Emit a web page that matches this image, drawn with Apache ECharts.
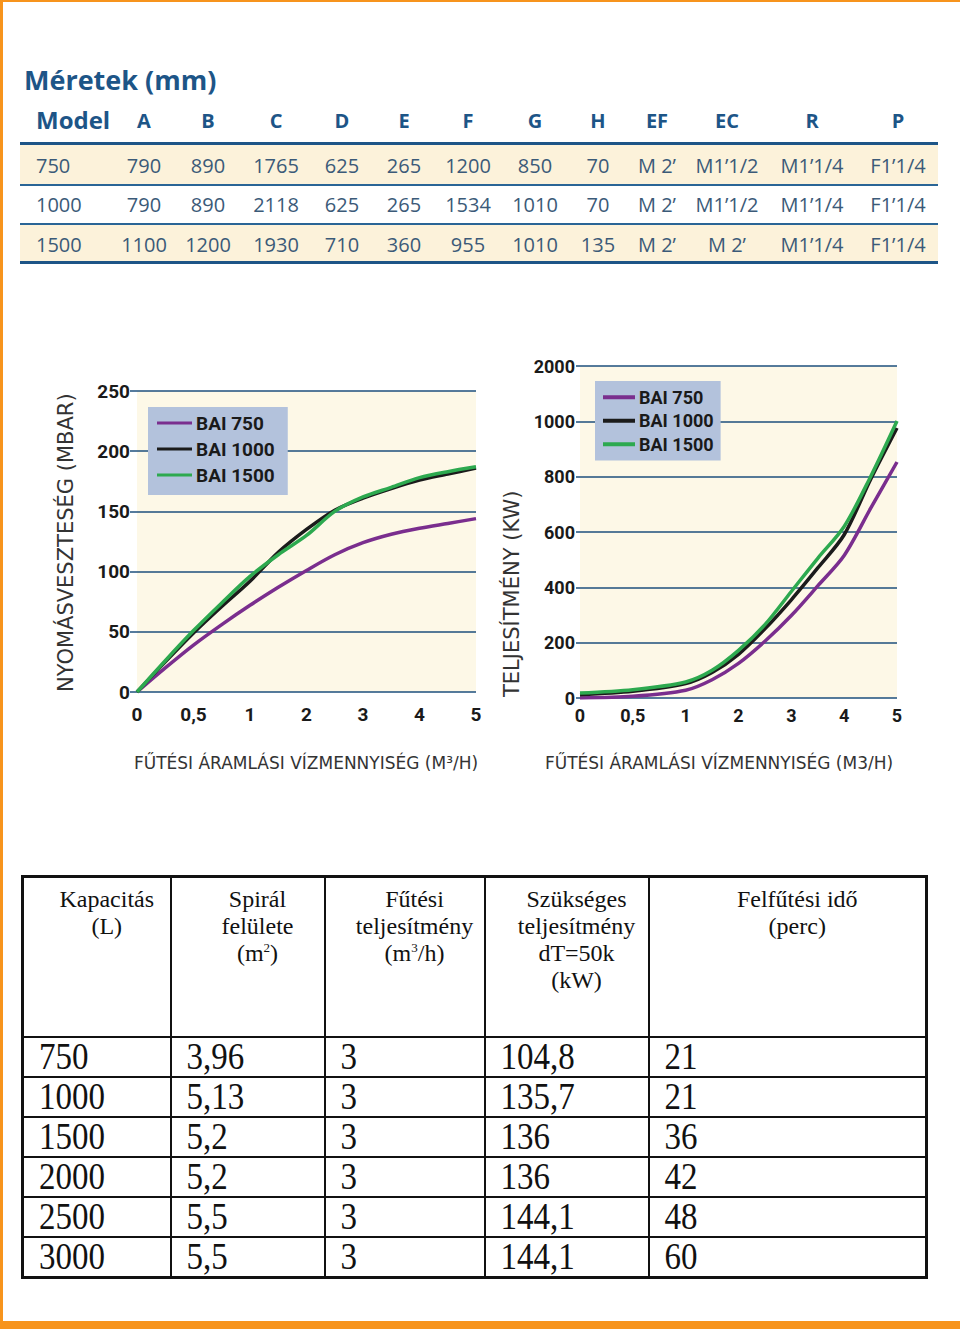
<!DOCTYPE html>
<html>
<head>
<meta charset="utf-8">
<script src="https://cdn.jsdelivr.net/npm/echarts@6/dist/echarts.min.js"></script>
<style>
  html, body { margin:0; padding:0; background:#fff; }
  body { width:960px; height:1329px; position:relative; overflow:hidden; }
  #chart { position:absolute; left:0; top:0; width:960px; height:1329px; }
  .ob { position:absolute; background:#f7941d; }
  .t { position:absolute; white-space:nowrap; }
  #dims .hdr { font-family:"Open Sans","Noto Sans",sans-serif; font-weight:700; color:#1d5587; }
  #dims .val { font-family:"Open Sans","Noto Sans",sans-serif; color:#3b5a78; font-size:20px; }
  #cap table { position:absolute; left:21px; top:875px; border-collapse:collapse; table-layout:fixed;
     font-family:"Liberation Serif","Times New Roman",serif; color:#111; }
  #cap td, #cap th { border:2px solid #111; padding:0; }
  #cap th { font-weight:400; font-size:24px; line-height:27px; vertical-align:top; text-align:center; padding-top:8px; padding-left:20px; height:150px; }
  #cap th sup { font-size:13px; line-height:0; vertical-align:9px; }
  #cap td { font-size:33px; height:38px; line-height:38px; padding-left:15px; vertical-align:middle; }
  #cap td span { display:inline-block; transform:scaleY(1.15); transform-origin:50% 55%; }
</style>
</head>
<body>
<div id="chart"></div>
<div id="dims"></div>
<div id="cap"></div>
<div class="ob" style="left:0;top:0;width:960px;height:2px"></div>
<div class="ob" style="left:0;top:0;width:3px;height:1329px"></div>
<div class="ob" style="left:0;top:1321px;width:960px;height:8px"></div>
<script>
// ---------- data ----------
const dimTitle = 'Méretek (mm)';
const dimHeaders = ['Model','A','B','C','D','E','F','G','H','EF','EC','R','P'];
const dimModels = ['750','1000','1500'];
const dimRow750  = ['790','890','1765','625','265','1200','850','70','M 2\u2019','M1\u20191/2','M1\u20191/4','F1\u20191/4'];
const dimRow1000 = ['790','890','2118','625','265','1534','1010','70','M 2\u2019','M1\u20191/2','M1\u20191/4','F1\u20191/4'];
const dimRow1500 = ['1100','1200','1930','710','360','955','1010','135','M 2\u2019','M 2\u2019','M1\u20191/4','F1\u20191/4'];

const seriesNames = ['BAI 750','BAI 1000','BAI 1500'];
const flowTickLabels = ['0','0,5','1','2','3','4','5'];   // non-uniform flow axis (m3/h)
const kwTickLabels = ['0','200','400','600','800','1000','2000']; // non-uniform power axis (kW)

// pressure loss chart (mbar vs m3/h)
const pFlow = [0, 0.25, 0.5, 0.75, 1, 1.5, 2, 2.5, 3, 3.5, 4, 4.5, 5];
const p750  = [0, 20, 39, 56, 72, 87, 101, 114, 124, 131, 136, 140, 144];
const p1000 = [0, 25, 49, 71, 92, 116, 135, 151, 161, 169, 176, 181, 186];
const p1500 = [0, 26, 51, 74, 96, 114, 130, 150, 162, 170, 178, 183, 187];

// power chart (kW vs m3/h)
const wFlow = [0, 0.5, 1, 1.5, 2, 2.5, 3, 3.5, 4, 4.5, 5];
const w750  = [0, 6, 28, 66, 125, 205, 298, 405, 515, 685, 853];
const w1000 = [12, 24, 52, 92, 158, 250, 355, 470, 590, 790, 976];
const w1500 = [18, 30, 58, 100, 172, 265, 385, 505, 620, 800, 1006];

const capHeaders = ['Kapacitás<br>(L)','Spirál<br>felülete<br>(m<sup>2</sup>)','Fűtési<br>teljesítmény<br>(m<sup>3</sup>/h)','Szükséges<br>teljesítmény<br>dT=50k<br>(kW)','Felfűtési idő<br>(perc)'];
const capLiters = ['750','1000','1500','2000','2500','3000'];
const capSpiral = ['3,96','5,13','5,2','5,2','5,5','5,5'];
const capFlow   = ['3','3','3','3','3','3'];
const capPower  = ['104,8','135,7','136','136','144,1','144,1'];
const capTime   = ['21','21','36','42','48','60'];

// ---------- dimensions table ----------
(function(){
  const root = document.getElementById('dims');
  const colX = [null,144,208,276,342,404,468,535,598,657,727,812,898];
  function txt(s, cls, x, y, size, align){
    const d = document.createElement('div');
    d.className = 't ' + cls;
    d.innerHTML = s;
    if (size) d.style.fontSize = size + 'px';
    d.style.top = y + 'px';
    d.style.lineHeight = '0px';
    d.style.left = x + 'px';
    if (align !== 'left') d.style.transform = 'translateX(-50%)';
    root.appendChild(d);
  }
  function rect(x,y,w,h,c){
    const d = document.createElement('div');
    d.style.cssText = `position:absolute;left:${x}px;top:${y}px;width:${w}px;height:${h}px;background:${c}`;
    root.appendChild(d);
  }
  rect(20,145,918,39,'#fcf2da');
  rect(20,225,918,37,'#fcf2da');
  rect(20,142,918,3,'#1d5587');
  rect(20,184,918,2,'#2a6596');
  rect(20,223,918,2,'#2a6596');
  rect(20,261,918,3,'#1d5587');
  txt(dimTitle,'hdr',24,80,27,'left');
  txt(dimHeaders[0],'hdr',36,120,24,'left');
  for (let i=1;i<dimHeaders.length;i++) txt(dimHeaders[i],'hdr',colX[i],121,20);
  const rows = [dimRow750, dimRow1000, dimRow1500];
  const ys = [166,205,245];
  rows.forEach((r,ri)=>{
    txt(dimModels[ri],'val',36,ys[ri],null,'left');
    r.forEach((v,ci)=>txt(v,'val',colX[ci+1],ys[ri]));
  });
})();

// ---------- capacity table ----------
(function(){
  const widths = [148,154,160,164,278];
  let h = '<table style="border:3px solid #111"><colgroup>' + widths.map(w=>`<col style="width:${w}px">`).join('') + '</colgroup><tr>';
  h += capHeaders.map(s=>`<th>${s}</th>`).join('') + '</tr>';
  for (let i=0;i<capLiters.length;i++){
    h += '<tr>' + [capLiters[i],capSpiral[i],capFlow[i],capPower[i],capTime[i]].map(v=>`<td><span>${v}</span></td>`).join('') + '</tr>';
  }
  h += '</table>';
  document.getElementById('cap').innerHTML = h;
})();

// ---------- charts ----------
function flowToIdx(f){ return f <= 1 ? 2*f : f + 1; }
function kwToIdx(k){ return k <= 1000 ? k/200 : 5 + (k-1000)/1000; }

const colors = ['#7a2e8e','#1b1b1b','#2da94f'];
const gridColor = '#1d4f7c';
const tickFont = { fontFamily:'Roboto,"Liberation Sans",sans-serif', fontWeight:'bold', color:'#1a1a1a' };
const nameFont = '17px "DejaVu Sans",sans-serif';
const vNameFont = '21px "DejaVu Sans",sans-serif';

const chart = echarts.init(document.getElementById('chart'), null, {renderer:'svg'});

function mkSeries(xs, ys, xi, yi, ymap){
  return ys.map((arr, k) => ({
    name: seriesNames[k], type:'line', xAxisIndex:xi, yAxisIndex:yi,
    data: xs.map((x,i)=>[flowToIdx(x), ymap ? ymap(arr[i]) : arr[i]]),
    smooth: 0.3, symbol:'none', color: colors[k],
    lineStyle:{ width:3.5, color: colors[k] }, itemStyle:{ color: colors[k] },
    z: 3 + k
  }));
}

chart.setOption({
  animation:false,
  grid:[
    { left:137, top:391, width:339, height:301, show:true, backgroundColor:'#fdf8e7', borderWidth:0 },
    { left:580, top:366, width:317, height:332, show:true, backgroundColor:'#fdf8e7', borderWidth:0 }
  ],
  xAxis:[
    { gridIndex:0, type:'value', min:0, max:6, interval:1,
      axisLine:{show:false}, axisTick:{show:false}, splitLine:{show:false},
      axisLabel:{ ...tickFont, fontSize:19, margin:13, formatter:v=>flowTickLabels[v] } },
    { gridIndex:1, type:'value', min:0, max:6, interval:1,
      axisLine:{show:false}, axisTick:{show:false}, splitLine:{show:false},
      axisLabel:{ ...tickFont, fontSize:18, margin:8, formatter:v=>flowTickLabels[v] } }
  ],
  yAxis:[
    { gridIndex:0, type:'value', min:0, max:250, interval:50,
      axisLine:{show:false}, axisTick:{show:true, length:7, lineStyle:{color:gridColor, width:1.5}},
      splitLine:{ lineStyle:{ color:gridColor, width:1.5 } },
      axisLabel:{ ...tickFont, fontSize:19, margin:7 } },
    { gridIndex:1, type:'value', min:0, max:6, interval:1,
      axisLine:{show:false}, axisTick:{show:true, length:4, lineStyle:{color:gridColor, width:1.5}},
      splitLine:{ lineStyle:{ color:gridColor, width:1.5 } },
      axisLabel:{ ...tickFont, fontSize:18, margin:5, formatter:v=>kwTickLabels[v] } }
  ],
  legend:[
    { left:148, top:407, orient:'vertical', data:seriesNames, icon:'rect', itemWidth:35, itemHeight:3,
      itemGap:6, padding:[6,13,10,9], backgroundColor:'#b3c2dc', borderWidth:0,
      textStyle:{ ...tickFont, fontSize:19, lineHeight:20, padding:[0,0,0,-1] } },
    { left:595, top:381, orient:'vertical', data:seriesNames, icon:'rect', itemWidth:32, itemHeight:4,
      itemGap:5, padding:[7,7,7,8], backgroundColor:'#b3c2dc', borderWidth:0,
      textStyle:{ ...tickFont, fontSize:18, lineHeight:18.5, padding:[0,0,0,-1] } }
  ],
  graphic:[
    { type:'text', x:66, y:692, rotation:Math.PI/2,
      style:{ text:'NYOMÁSVESZTESÉG (MBAR)', font:vNameFont, fill:'#333', textAlign:'left', textVerticalAlign:'middle' } },
    { type:'text', x:512, y:697, rotation:Math.PI/2,
      style:{ text:'TELJESÍTMÉNY (KW)', font:vNameFont, fill:'#333', textAlign:'left', textVerticalAlign:'middle' } },
    { type:'text', x:306, y:763,
      style:{ text:'FŰTÉSI ÁRAMLÁSI VÍZMENNYISÉG (M³/H)', font:nameFont, fill:'#333', textAlign:'center', textVerticalAlign:'middle' } },
    { type:'text', x:719, y:763,
      style:{ text:'FŰTÉSI ÁRAMLÁSI VÍZMENNYISÉG (M3/H)', font:nameFont, fill:'#333', textAlign:'center', textVerticalAlign:'middle' } }
  ],
  series:[
    ...mkSeries(pFlow, [p750,p1000,p1500], 0, 0, null),
    ...mkSeries(wFlow, [w750,w1000,w1500], 1, 1, kwToIdx)
  ]
});
</script>
</body>
</html>
